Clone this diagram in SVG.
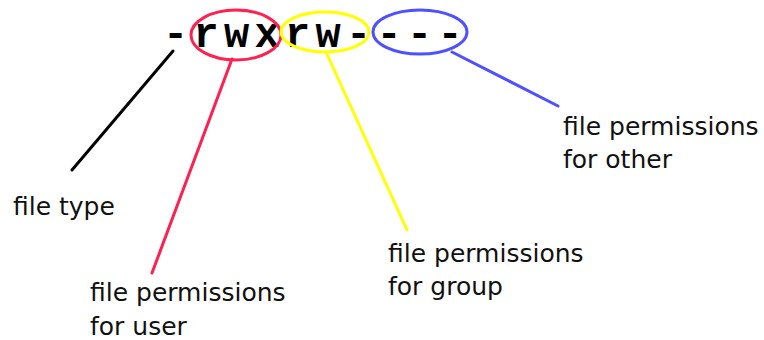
<svg xmlns="http://www.w3.org/2000/svg" width="764" height="340" viewBox="0 0 764 340">
  <style>
    .mode { font-family: "Courier New", "Liberation Mono", monospace; font-weight: bold; font-size: 42px; fill: #000; letter-spacing: 5.3px; }
    .label { font-family: "DejaVu Sans", "Verdana", sans-serif; font-size: 25px; fill: #111; }
    .ring { fill: none; stroke-width: 3; }
    .lead { fill: none; stroke-width: 3; stroke-linecap: round; }
  </style>
  <rect width="764" height="340" fill="#ffffff"/>

  <!-- permission string -->
  <g id="mode-string">
    <text class="mode" x="163" y="47">-rwxrw----</text>
  </g>

  <!-- highlighted permission triplets -->
  <g id="user-bits">
    <ellipse class="ring" cx="236" cy="35" rx="45" ry="25" stroke="#ff2050"/>
  </g>
  <g id="group-bits">
    <ellipse class="ring" cx="325" cy="32" rx="44" ry="20" stroke="#ffff00"/>
  </g>
  <g id="other-bits">
    <ellipse class="ring" cx="420" cy="32" rx="47" ry="22" stroke="#5050ff"/>
  </g>

  <!-- connectors -->
  <g id="connectors">
    <line class="lead" x1="173" y1="51" x2="72" y2="170" stroke="#000"/>
    <line class="lead" x1="232" y1="59" x2="152" y2="273" stroke="#ff2050"/>
    <line class="lead" x1="326" y1="52" x2="407" y2="230" stroke="#ffff00"/>
    <line class="lead" x1="452" y1="52" x2="558" y2="106" stroke="#5050ff"/>
  </g>

  <!-- labels -->
  <g id="label-type">
    <text class="label" x="13" y="215">file type</text>
  </g>
  <g id="label-user">
    <text class="label" x="90" y="301">file permissions</text>
    <text class="label" x="90" y="335">for user</text>
  </g>
  <g id="label-group">
    <text class="label" x="388" y="262">file permissions</text>
    <text class="label" x="388" y="295">for group</text>
  </g>
  <g id="label-other">
    <text class="label" x="563" y="135">file permissions</text>
    <text class="label" x="563" y="168">for other</text>
  </g>
</svg>
